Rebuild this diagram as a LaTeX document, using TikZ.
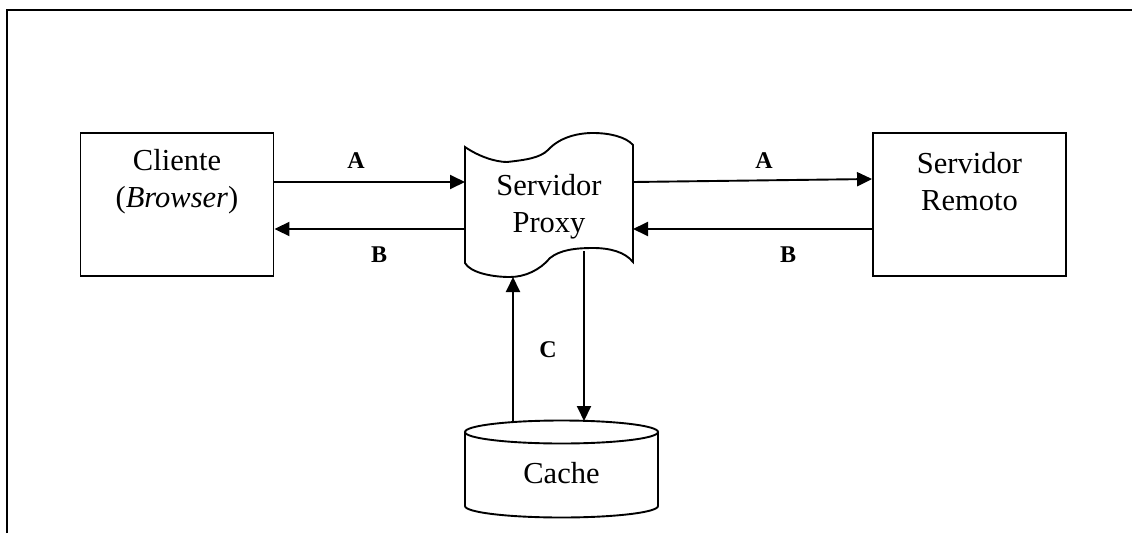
\documentclass[tikz,border=0pt]{standalone}
\usepackage{fontspec}
\setmainfont{Liberation Serif}
\usetikzlibrary{arrows.meta}

\tikzset{
  boxnode/.style={draw, line width=1.9pt, minimum width=193pt, minimum height=143pt, inner sep=0pt},
  ghost/.style={inner sep=0pt, outer sep=0pt},
  bigtext/.style={align=center, font=\fontsize{30.5}{37}\selectfont},
  lbl/.style={font=\fontsize{24}{28}\selectfont\bfseries},
  arr/.style={line width=1.9pt, -{Triangle[length=15pt,width=14pt]}},
  outline/.style={line width=1.9pt},
}

\begin{document}
\begin{tikzpicture}[x=1pt, y=-1pt]
  \useasboundingbox (0,0) rectangle (1132,533);

  % open frame (left and top edges only)
  \draw[line width=2.4pt] (7,533) -- (7,10) -- (1132,10);

  % client and remote server boxes
  \node[boxnode] (client) at (177,204.5) {};
  \node[bigtext] (clientlabel) at (177,182) {Cliente\\(\textit{Browser})};

  \node[boxnode] (remote) at (969.5,204.5) {};
  \node[bigtext] (remotelabel) at (969.5,182) {Servidor\\Remoto};

  % proxy: punched-tape shape
  \node[ghost, minimum width=168pt, minimum height=116pt] (proxy) at (549,205) {};
  \draw[outline]
    (465,147) .. controls (478,156) and (495,162) .. (507,162)
    .. controls (525,160) and (540,158) .. (548,150)
    .. controls (560,137) and (578,133) .. (593,133)
    .. controls (610,133) and (626,137) .. (633,145)
    -- (633,262)
    .. controls (625,252) and (610,248) .. (593,248)
    .. controls (575,248) and (560,250) .. (550,258)
    .. controls (540,270) and (525,277) .. (510,277)
    .. controls (490,277) and (470,272) .. (465,263)
    -- cycle;
  \node[bigtext] (proxylabel) at (549,207) {Servidor\\Proxy};

  % cache: cylinder
  \node[ghost, minimum width=193pt, minimum height=96pt] (cache) at (561.5,469) {};
  \draw[outline] (561.5,432) ellipse [x radius=96.5pt, y radius=11.5pt];
  \draw[outline] (465,432) -- (465,506)
    arc [start angle=180, end angle=360, x radius=96.5pt, y radius=11.5pt]
    -- (658,432);
  \node[bigtext] (cachelabel) at (561.5,473) {Cache};

  % request / response flows
  \draw[arr] (client.east |- 0,182) -- (proxy.west |- 0,182);
  \draw[arr] (proxy.west |- 0,229) -- (client.east |- 0,229);
  \draw[arr] (proxy.east |- 0,182) -- (remote.west |- 0,179);
  \draw[arr] (remote.west |- 0,229) -- (proxy.east |- 0,229);

  % cache lookups
  \coordinate (cacheup) at (513,422);
  \coordinate (proxydown) at (584,251);
  \draw[arr] (cacheup) -- (513,277);
  \draw[arr] (proxydown) -- (584,421);

  % flow labels
  \node[lbl] (la1) at (356,161) {A};
  \node[lbl] (lb1) at (379,255) {B};
  \node[lbl] (la2) at (764,161) {A};
  \node[lbl] (lb2) at (788,255) {B};
  \node[lbl] (lc) at (548,350) {C};
\end{tikzpicture}
\end{document}
